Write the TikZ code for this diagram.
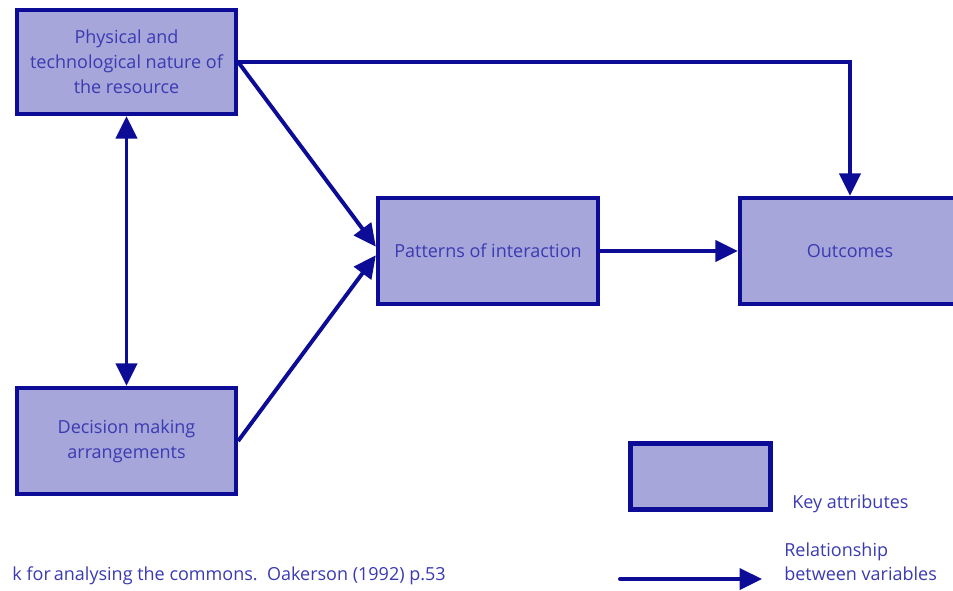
\documentclass[tikz,border=0pt]{standalone}
\usepackage{fontspec}
\setmainfont{Open Sans}
\usepackage{tikz}
\usetikzlibrary{arrows.meta, positioning}
\definecolor{boxfill}{RGB}{166,166,218}
\definecolor{boxline}{RGB}{12,12,150}
\definecolor{boxtext}{RGB}{58,58,178}
\tikzstyle{attr} = [rectangle, draw=boxline, line width=3pt, fill=boxfill, text=boxtext, align=center, font=\fontsize{12.8}{17.8}\selectfont, inner sep=0pt]
\tikzstyle{line} = [draw=boxline, line width=2.8pt, -{Triangle[length=16pt, width=15pt]}]
\tikzstyle{note} = [text=boxtext, align=left, font=\fontsize{12.8}{17.2}\selectfont, inner sep=0pt]

\begin{document}
\begin{tikzpicture}[x=0.025cm, y=-0.025cm]
    \clip (0,0) rectangle (953,591);
    % Nodes
    \node [attr, minimum width=5.475cm, minimum height=2.6cm] (phys) at (126.5,62) {Physical and\\ technological nature of\\ the resource};
    \node [attr, minimum width=5.475cm, minimum height=2.65cm] (decision) at (126.5,441) {Decision making\\ arrangements};
    \node [attr, minimum width=5.5cm, minimum height=2.65cm] (patterns) at (488,251) {Patterns of interaction};
    \node [attr, minimum width=5.5cm, minimum height=2.65cm] (outcomes) at (850,251) {Outcomes};
    \node [attr, minimum width=3.5cm, minimum height=1.65cm] (key) at (700.5,476.5) {};
    \node [note, anchor=west] (keytext) at (792,504) {Key attributes};
    \node [note, anchor=west] (reltext) at (784,562) {Relationship\\ between variables};
    \node [note, anchor=east] (caption) at (446,576) {k for\,analysing the commons.\ \ Oakerson (1992) p.53};
    \coordinate (lgA) at (620,579);
    \coordinate (lgB) at (762,579);

    % Edges
    \path [line] (phys.east) -| (outcomes.north);
    \path [line] (phys.east) -- ([yshift=3pt]patterns.west);
    \path [line] (decision.east) -- ([yshift=-3pt]patterns.west);
    \path [line, {Triangle[length=16pt, width=15pt]}-{Triangle[length=16pt, width=15pt]}] (phys) -- (decision);
    \path [line] (patterns) -- (outcomes);
    \path [line, line cap=round] (lgA) -- (lgB);
\end{tikzpicture}
\end{document}
